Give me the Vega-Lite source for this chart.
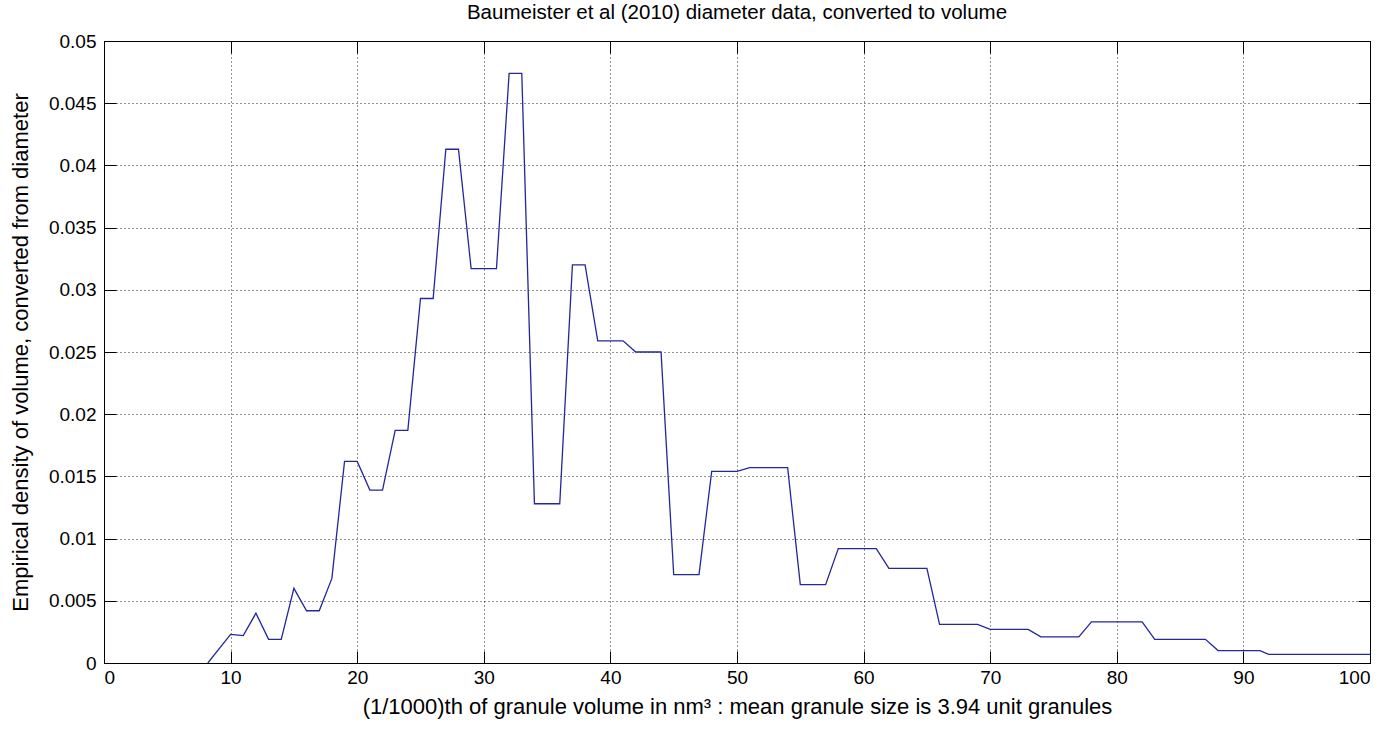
{
  "$schema": "https://vega.github.io/schema/vega-lite/v6.json",
  "width": 1266,
  "height": 622,
  "autosize": {"type": "none"},
  "padding": {"left": 104, "top": 41, "right": 26, "bottom": 67},
  "background": "white",
  "title": {
    "text": "Baumeister et al (2010) diameter data, converted to volume",
    "font": "Liberation Sans",
    "fontSize": 20.5,
    "fontWeight": "normal",
    "color": "#000000",
    "anchor": "middle",
    "offset": 9
  },
  "config": {
    "view": {"stroke": "#000000", "strokeWidth": 1},
    "axis": {
      "domainColor": "#000000",
      "domainWidth": 1,
      "tickColor": "#000000",
      "tickWidth": 1,
      "tickSize": -12,
      "labelFont": "Liberation Sans",
      "labelFontSize": 19,
      "labelColor": "#000000",
      "titleFont": "Liberation Sans",
      "titleFontSize": 22,
      "titleFontWeight": "normal",
      "titleColor": "#000000",
      "gridColor": "#000000",
      "gridOpacity": 0.85,
      "gridWidth": 1,
      "gridDash": [1, 3]
    }
  },
  "data": {
    "values": [
      {"volume": 8.2, "density": 0},
      {"volume": 10, "density": 0.0023},
      {"volume": 11, "density": 0.0022},
      {"volume": 12, "density": 0.004},
      {"volume": 13, "density": 0.0019},
      {"volume": 14, "density": 0.0019},
      {"volume": 15, "density": 0.006},
      {"volume": 16, "density": 0.0042},
      {"volume": 17, "density": 0.0042},
      {"volume": 18, "density": 0.0068},
      {"volume": 19, "density": 0.0162},
      {"volume": 20, "density": 0.0162},
      {"volume": 21, "density": 0.0139},
      {"volume": 22, "density": 0.0139},
      {"volume": 23, "density": 0.0187},
      {"volume": 24, "density": 0.0187},
      {"volume": 25, "density": 0.0293},
      {"volume": 26, "density": 0.0293},
      {"volume": 27, "density": 0.0413},
      {"volume": 28, "density": 0.0413},
      {"volume": 29, "density": 0.0317},
      {"volume": 31, "density": 0.0317},
      {"volume": 32, "density": 0.0474},
      {"volume": 33, "density": 0.0474},
      {"volume": 34, "density": 0.0128},
      {"volume": 36, "density": 0.0128},
      {"volume": 37, "density": 0.032},
      {"volume": 38, "density": 0.032},
      {"volume": 39, "density": 0.0259},
      {"volume": 41, "density": 0.0259},
      {"volume": 42, "density": 0.025},
      {"volume": 44, "density": 0.025},
      {"volume": 45, "density": 0.0071},
      {"volume": 47, "density": 0.0071},
      {"volume": 48, "density": 0.0154},
      {"volume": 50, "density": 0.0154},
      {"volume": 51, "density": 0.0157},
      {"volume": 54, "density": 0.0157},
      {"volume": 55, "density": 0.0063},
      {"volume": 57, "density": 0.0063},
      {"volume": 58, "density": 0.0092},
      {"volume": 61, "density": 0.0092},
      {"volume": 62, "density": 0.0076},
      {"volume": 65, "density": 0.0076},
      {"volume": 66, "density": 0.0031},
      {"volume": 69, "density": 0.0031},
      {"volume": 70, "density": 0.0027},
      {"volume": 73, "density": 0.0027},
      {"volume": 74, "density": 0.0021},
      {"volume": 77, "density": 0.0021},
      {"volume": 78, "density": 0.0033},
      {"volume": 82, "density": 0.0033},
      {"volume": 83, "density": 0.0019},
      {"volume": 87, "density": 0.0019},
      {"volume": 88, "density": 0.001},
      {"volume": 91.3, "density": 0.001},
      {"volume": 92, "density": 0.0007},
      {"volume": 100, "density": 0.0007}
    ]
  },
  "layer": [
    {
      "mark": {"type": "line", "color": "#22279a", "strokeWidth": 1.3, "clip": true},
      "encoding": {
        "x": {
          "field": "volume",
          "type": "quantitative",
          "scale": {"domain": [0, 100], "nice": false, "zero": false},
          "axis": {
            "orient": "bottom",
            "values": [0, 10, 20, 30, 40, 50, 60, 70, 80, 90, 100],
            "grid": true,
            "labelPadding": 17,
            "labelBaseline": "top",
            "title": "(1/1000)th of granule volume in nm³ : mean granule size is 3.94 unit granules",
            "titlePadding": 9
          }
        },
        "y": {
          "field": "density",
          "type": "quantitative",
          "scale": {"domain": [0, 0.05], "nice": false, "zero": false},
          "axis": {
            "orient": "left",
            "values": [0, 0.005, 0.01, 0.015, 0.02, 0.025, 0.03, 0.035, 0.04, 0.045, 0.05],
            "format": "~g",
            "grid": true,
            "labelPadding": 20,
            "title": "Empirical density of volume, converted from diameter",
            "titleX": -72,
            "titleY": 311
          }
        }
      }
    },
    {
      "mark": {"type": "line", "opacity": 0},
      "encoding": {
        "x": {
          "field": "volume",
          "type": "quantitative",
          "axis": {
            "orient": "top",
            "values": [0, 10, 20, 30, 40, 50, 60, 70, 80, 90, 100],
            "labels": false,
            "grid": false,
            "title": null
          }
        },
        "y": {
          "field": "density",
          "type": "quantitative",
          "axis": {
            "orient": "right",
            "values": [0, 0.005, 0.01, 0.015, 0.02, 0.025, 0.03, 0.035, 0.04, 0.045, 0.05],
            "labels": false,
            "grid": false,
            "title": null
          }
        }
      }
    }
  ],
  "resolve": {"axis": {"x": "independent", "y": "independent"}}
}
